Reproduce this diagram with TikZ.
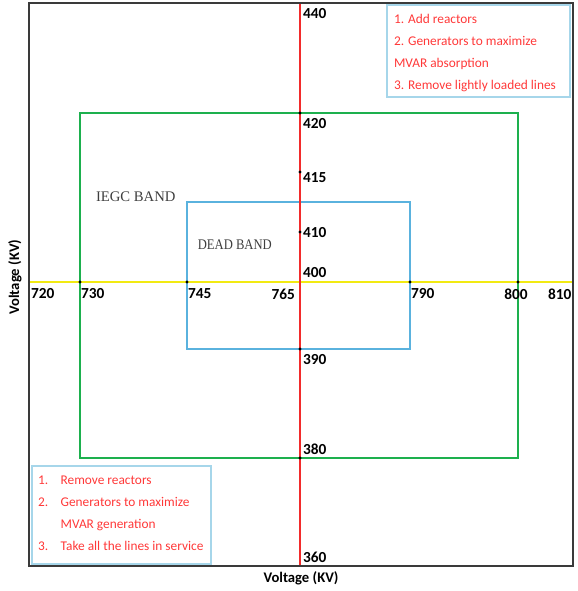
\documentclass[tikz,border=0pt]{standalone}
\usepackage{fontspec}
\setmainfont{Carlito}
\newfontfamily\bandfont{Liberation Serif}
\usetikzlibrary{positioning}
\definecolor{cred}{HTML}{F22B2B}
\definecolor{cgreen}{HTML}{1DB04E}
\definecolor{cblue}{HTML}{5AB2DE}
\definecolor{cyellow}{HTML}{F2EA12}
\definecolor{cframe}{HTML}{3A3A3A}
\definecolor{cnote}{HTML}{A6D6EA}
\definecolor{cnotetext}{HTML}{FF3838}
\definecolor{cband}{HTML}{3E3E3E}
\tikzset{
  every picture/.style={line width=1.5pt},
  val/.style={font=\bfseries\fontsize{11.5}{11.5}\selectfont, inner sep=0pt, anchor=west},
  dot/.style={circle, fill=black, inner sep=0pt, minimum size=2.4pt},
  band/.style={font=\bandfont\fontsize{11}{11}\selectfont, text=cband, inner sep=0pt, anchor=west},
  notebox/.style={draw=cnote, line width=1.2pt},
  notetext/.style={text=cnotetext, font=\fontsize{10}{16.5}\selectfont, align=left, inner sep=0pt, anchor=north west},
  axtitle/.style={font=\bfseries\fontsize{11}{11}\selectfont, inner sep=0pt},
}

\begin{document}
\begin{tikzpicture}[x=0.75pt, y=-0.75pt]
  \useasboundingbox (0,0) rectangle (577,591);
  \coordinate (fNW) at (29,3);
  \coordinate (fSE) at (573,566);
  \coordinate (vtop) at (300,3);
  \coordinate (vbot) at (300,566);
  \coordinate (hleft) at (29,282);
  \coordinate (hright) at (573,282);
  \coordinate (iegcNW) at (80,113);
  \coordinate (iegcSE) at (518,458);
  \coordinate (deadNW) at (187,202);
  \coordinate (deadSE) at (410,349);
  \draw[cgreen, line width=2.2pt] (iegcNW) rectangle (iegcSE);
  \draw[cblue] (deadNW) rectangle (deadSE);
  \draw[cyellow, line width=2.2pt] (hleft) -- (hright);
  \draw[cred] (vtop) -- (vbot);
  \draw[cframe] (fNW) rectangle (fSE);
  \node[dot] (d420) at (300,113) {};
  \node[dot] (d415) at (300,172) {};
  \node[dot] (d410) at (300,232) {};
  \node[dot] (d390) at (300,349) {};
  \node[dot] (d380) at (300,458) {};
  \node[dot] (d730) at (80,282) {};
  \node[dot] (d745) at (187,282) {};
  \node[dot] (d790) at (410,282) {};
  \node[dot] (d800) at (518,282) {};
  \node[val] (v440) at (302,14) {440};
  \node[val] (v420) at (302,124) {420};
  \node[val] (v415) at (302,178) {415};
  \node[val] (v410) at (302,233) {410};
  \node[val] (v400) at (302,273) {400};
  \node[val] (v390) at (302,360) {390};
  \node[val] (v380) at (302,449) {380};
  \node[val] (v360) at (302,557) {360};
  \node[val] (h720) at (30,294) {720};
  \node[val] (h730) at (80,294) {730};
  \node[val] (h745) at (187,294) {745};
  \node[val, anchor=east] (h765) at (296,294) {765};
  \node[val] (h790) at (410,294) {790};
  \node[val, anchor=center] (h800) at (516,294) {800};
  \node[val] (h810) at (547,294) {810};
  \node[band] (iegc) at (95,197) {IEGC BAND};
  \node[band, xscale=0.86, transform shape] (dead) at (197,245) {DEAD BAND};
  \draw[notebox] (387,5) rectangle (570,97);
  \node[notetext] (upper) at (393,13) {1. Add reactors\\2. Generators to maximize\\MVAR absorption\\3. Remove lightly loaded lines};
  \draw[notebox] (32,466) rectangle (211,564);
  \node[notetext] (lower) at (37,475) {\makebox[17pt][l]{1.}Remove reactors\\\makebox[17pt][l]{2.}Generators to maximize\\\hspace*{17pt}MVAR generation\\\makebox[17pt][l]{3.}Take all the lines in service};
  \node[axtitle] (xtitle) at (301,578) {Voltage (KV)};
  \node[axtitle, rotate=90] (ytitle) at (15,277) {Voltage (KV)};
\end{tikzpicture}
\end{document}
